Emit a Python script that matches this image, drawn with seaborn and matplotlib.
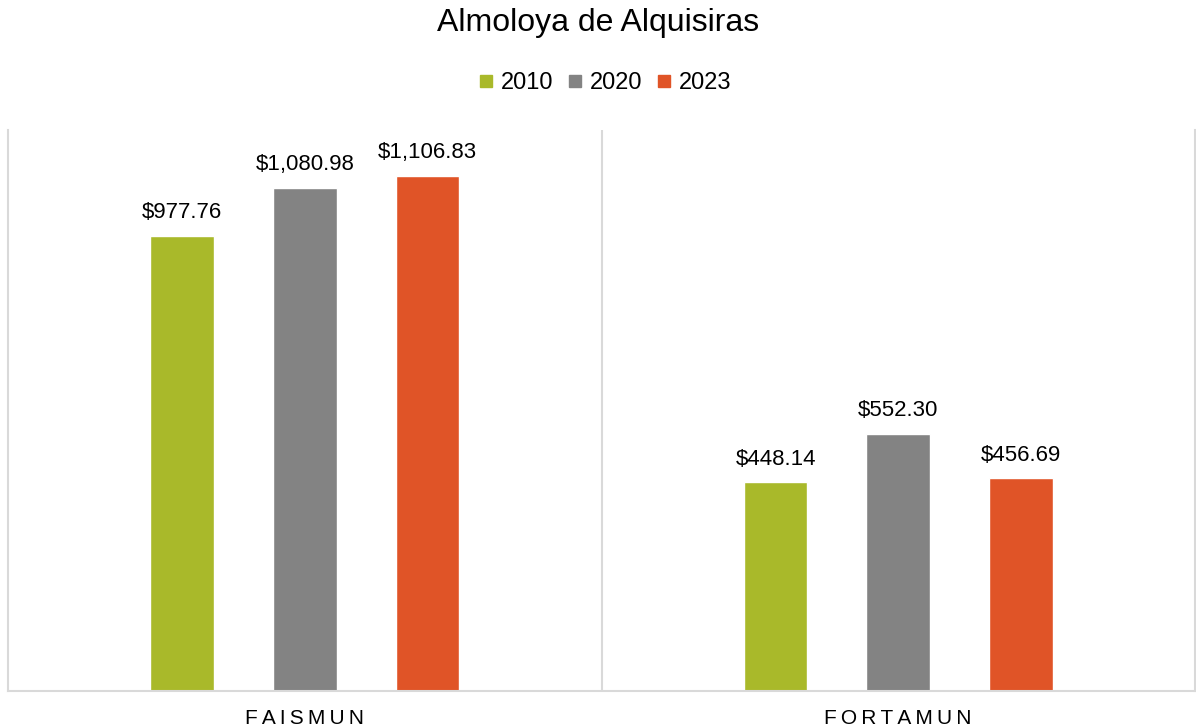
import pandas as pd
import matplotlib.pyplot as plt
import seaborn as sns
from matplotlib.lines import Line2D

categories = ['FAISMUN', 'FORTAMUN']
years = ['2010', '2020', '2023']
val_2010 = [977.76, 448.14]
val_2020 = [1080.98, 552.30]
val_2023 = [1106.83, 456.69]
tick_labels = ['F\u2009A\u2009I\u2009S\u2009M\u2009U\u2009N', 'F\u2009O\u2009R\u2009T\u2009A\u2009M\u2009U\u2009N']
colors = ['#A9B92A', '#838383', '#E05427']

rows = []
for yr, vals in zip(years, [val_2010, val_2020, val_2023]):
    for c, v in zip(categories, vals):
        rows.append({'cat': c, 'year': yr, 'val': v})
df = pd.DataFrame(rows)

sns.set_style('white')
plt.rcParams['font.family'] = ['Liberation Sans', 'DejaVu Sans']
plt.rcParams['text.color'] = 'black'
plt.rcParams['xtick.color'] = 'black'

fig = plt.figure(figsize=(11.96, 7.27), dpi=100)
ax = fig.add_axes([8 / 1196, 1 - 691 / 727, 1187 / 1196, 561 / 727])

sns.barplot(data=df, x='cat', y='val', hue='year', palette=colors,
            width=0.62, gap=0.48, ax=ax, legend=False, saturation=1)

for cont in ax.containers:
    ax.bar_label(cont, fmt='${:,.2f}', padding=9, fontsize=16, color='black')

ax.set_xlim(-0.5, 1.5)
ax.set_ylim(0, 1205)
ax.set_yticks([])
ax.set_xlabel('')
ax.set_ylabel('')
ax.set_xticks([0, 1])
ax.set_xticklabels(tick_labels, fontsize=15, color='black')
ax.tick_params(axis='x', length=0, pad=13)

for s in ['left', 'right', 'bottom']:
    ax.spines[s].set_color('#D9D9D9')
    ax.spines[s].set_linewidth(1.5)
ax.spines['top'].set_visible(False)
ax.axvline(0.5, color='#D9D9D9', lw=1.5)

fig.text(0.5, 1 - 23 / 727, 'Almoloya de Alquisiras', ha='center', va='center',
         fontsize=23, color='black')

handles = [Line2D([], [], marker='s', linestyle='', color=c, markersize=9) for c in colors]
fig.legend(handles, years, loc='center', bbox_to_anchor=(0.504, 1 - 83 / 727), ncol=3,
           frameon=False, fontsize=17, handletextpad=0.1, columnspacing=0.45, handlelength=1.0,
           labelcolor='black')

fig.savefig('out.png', dpi=100)
